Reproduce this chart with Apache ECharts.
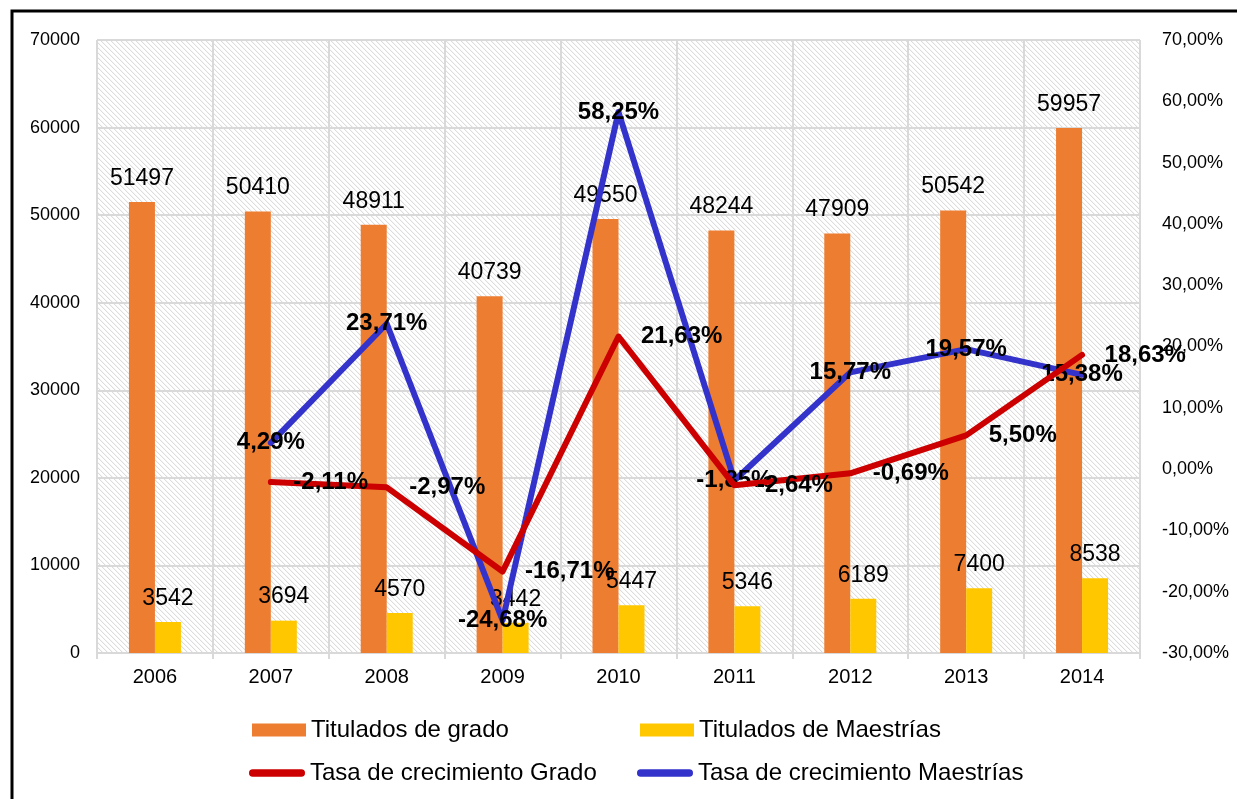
<!DOCTYPE html>
<html>
<head>
<meta charset="utf-8">
<script src="https://cdn.jsdelivr.net/npm/echarts@6/dist/echarts.min.js"></script>
<style>
html,body{margin:0;padding:0;background:#fff;}
#chart{width:1237px;height:799px;}
</style>
</head>
<body>
<div id="chart"></div>
<script>
// ---- data ----
var years = ['2006','2007','2008','2009','2010','2011','2012','2013','2014'];
var tituladosGrado = [51497, 50410, 48911, 40739, 49550, 48244, 47909, 50542, 59957];
var tituladosMaestrias = [3542, 3694, 4570, 3442, 5447, 5346, 6189, 7400, 8538];
var tasaGrado = [null, -2.11, -2.97, -16.71, 21.63, -2.64, -0.69, 5.50, 18.63];
var tasaMaestrias = [null, 4.29, 23.71, -24.68, 58.25, -1.85, 15.77, 19.57, 15.38];
var seriesNames = ['Titulados de grado', 'Titulados de Maestrías', 'Tasa de crecimiento Grado', 'Tasa de crecimiento Maestrías'];

var FONT = '"Liberation Sans", Arial, sans-serif';

// hatched pattern for plot background
var P = 5;
var pat = document.createElement('canvas');
pat.width = P; pat.height = P;
(function(){
  var ctx = pat.getContext('2d');
  var img = ctx.createImageData(P,P);
  for (var y=0;y<P;y++) for (var x=0;x<P;x++){
    var m = ((x - y) % P + P) % P;
    var v = m === 0 ? 220 : (m === 1 ? 246 : 255);
    var i = (y*P+x)*4;
    img.data[i]=v; img.data[i+1]=v; img.data[i+2]=v; img.data[i+3]=255;
  }
  ctx.putImageData(img,0,0);
})();

function pct(v){ return v.toFixed(2).replace('.', ',') + '%'; }

var chart = echarts.init(document.getElementById('chart'), null, {renderer:'canvas'});
var gridColor = '#d9d9d9';
var lineLegend = 'path://M4,0 L56,0 A4,4 0 0 1 56,8 L4,8 A4,4 0 0 1 4,0 Z';
var legendText = {fontSize: 24, color: '#000', fontFamily: FONT};

chart.setOption({
  animation: false,
  backgroundColor: '#fff',
  textStyle: {fontFamily: FONT},
  graphic: [{
    type: 'rect', shape: {x: 12, y: 11, width: 1400, height: 1000},
    style: {fill: 'none', stroke: '#000', lineWidth: 3}, z: 100
  }],
  grid: {
    left: 97, right: 97, top: 40, bottom: 146, show: true,
    backgroundColor: {image: pat, repeat: 'repeat'}, borderWidth: 0
  },
  legend: [
    {data: [{name: seriesNames[0], icon: 'rect'}], left: 247, top: 713, itemWidth: 54, itemHeight: 13, itemGap: 0, textStyle: legendText},
    {data: [{name: seriesNames[1], icon: 'rect'}], left: 635, top: 713, itemWidth: 54, itemHeight: 13, itemGap: 0, textStyle: legendText},
    {data: [{name: seriesNames[2], icon: lineLegend}], left: 244, top: 756, itemWidth: 56, itemHeight: 8, itemGap: 0, textStyle: legendText},
    {data: [{name: seriesNames[3], icon: lineLegend}], left: 632, top: 756, itemWidth: 56, itemHeight: 8, itemGap: 0, textStyle: legendText}
  ],
  xAxis: {
    type: 'category', data: years, boundaryGap: true,
    axisLine: {show: true, lineStyle: {color: gridColor, width: 2}},
    axisTick: {show: true, alignWithLabel: false, length: 6, lineStyle: {color: gridColor, width: 2}},
    splitLine: {show: true, lineStyle: {color: gridColor, width: 2}},
    axisLabel: {fontSize: 20, color: '#000', margin: 14, fontFamily: FONT}
  },
  yAxis: [{
    type: 'value', min: 0, max: 70000, interval: 10000,
    axisLine: {show: false}, axisTick: {show: false},
    splitLine: {show: true, lineStyle: {color: gridColor, width: 2}},
    axisLabel: {fontSize: 18, color: '#000', margin: 17, fontFamily: FONT, formatter: function(v){ return String(v); }}
  }, {
    type: 'value', min: -30, max: 70, interval: 10,
    axisLine: {show: false}, axisTick: {show: false}, splitLine: {show: false},
    axisLabel: {fontSize: 18, color: '#000', margin: 22, fontFamily: FONT, formatter: function(v){ return pct(v); }}
  }],
  series: [{
    name: seriesNames[0], type: 'bar', data: tituladosGrado, barWidth: 26, barGap: '0%',
    itemStyle: {color: '#ED7D31'},
    label: {show: true, position: 'top', distance: 12, fontSize: 23, color: '#000', fontFamily: FONT}
  }, {
    name: seriesNames[1], type: 'bar', data: tituladosMaestrias, barWidth: 26, barGap: '0%',
    itemStyle: {color: '#FFC700'},
    label: {show: true, position: 'top', distance: 12, fontSize: 23, color: '#000', fontFamily: FONT}
  }, {
    name: seriesNames[3], type: 'line', yAxisIndex: 1, data: tasaMaestrias,
    symbol: 'circle', symbolSize: 1, showSymbol: true, connectNulls: false,
    lineStyle: {color: '#3333CC', width: 6, cap: 'round', join: 'round'},
    itemStyle: {color: '#3333CC'},
    label: {show: true, position: 'inside', fontSize: 24, fontWeight: 'bold', color: '#000', fontFamily: FONT,
      formatter: function(p){ return pct(p.value); }},
    z: 3
  }, {
    name: seriesNames[2], type: 'line', yAxisIndex: 1, data: tasaGrado,
    symbol: 'circle', symbolSize: 1, showSymbol: true, connectNulls: false,
    lineStyle: {color: '#CC0000', width: 6, cap: 'round', join: 'round'},
    itemStyle: {color: '#CC0000'},
    label: {show: true, position: 'right', distance: 22, fontSize: 24, fontWeight: 'bold', color: '#000', fontFamily: FONT,
      formatter: function(p){ return pct(p.value); }},
    z: 4
  }]
});
</script>
</body>
</html>
